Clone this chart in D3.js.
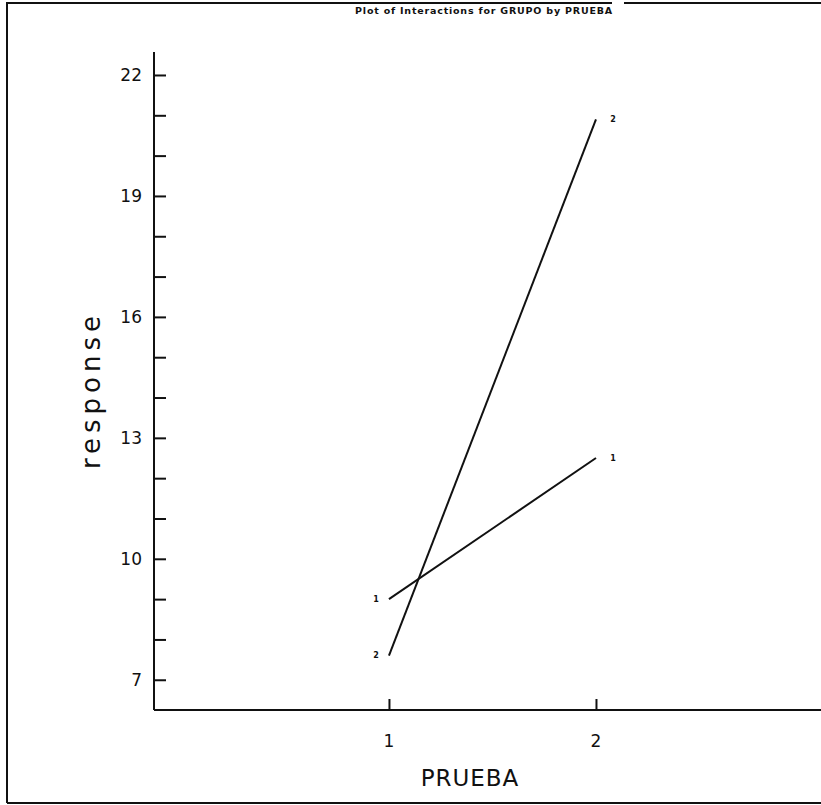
<!DOCTYPE html>
<meta charset="utf-8">
<script src="https://d3js.org/d3.v7.min.js"></script>
<style>
  body { margin: 0; background: #fff; }
  text { font-family: "DejaVu Sans", sans-serif; fill: #111; }
</style>
<div id="chart"></div>
<script>

// data
var prueba = [1, 2];
var grupos = ["1", "2"];
var grupo1 = [9.0, 12.5];
var grupo2 = [7.6, 20.9];
var yTicks = [7, 10, 13, 16, 19, 22];

var W = 821, H = 805;
var margin = {top: 52, right: 0, bottom: 95, left: 154};
var width = W - margin.left - margin.right,
    height = H - margin.top - margin.bottom;

var svg = d3.select("#chart")
  .append("svg")
    .attr("width", W)
    .attr("height", H);

// page frame (scanned printout)
svg.append("path")
  .attr("fill", "none")
  .attr("stroke", "#111")
  .attr("stroke-width", 2)
  .attr("d", "M7,803 L7,3 L612,3 M624,3 L821,3 M7,803 L821,803");

svg.append("text")
  .attr("x", 484).attr("y", 14)
  .attr("text-anchor", "middle")
  .style("font-size", "9.5px")
  .style("font-weight", "bold")
  .style("letter-spacing", "0.8px")
  .text("Plot of Interactions for GRUPO by PRUEBA");

var g = svg.append("g")
  .attr("transform", "translate(" + margin.left + "," + margin.top + ")");

var y = d3.scaleLinear()
  .domain([6.25, 22.57])
  .range([height, 0]);

var x = d3.scaleLinear()
  .domain([-0.135, 3.087])
  .range([0, width]);

// Y axis: ticks pointing right, minor ticks every unit
var yAxis = g.append("g")
  .call(d3.axisRight(y).tickValues(d3.range(7, 23)).tickSize(12).tickFormat(""));
yAxis.select(".domain").attr("d", "M0,0V" + height);
yAxis.selectAll("line, path").attr("stroke", "#111").attr("stroke-width", 2);

g.selectAll(".ylab")
  .data(yTicks)
  .enter().append("text")
    .attr("class", "ylab")
    .attr("x", -12)
    .attr("y", function(d) { return y(d); })
    .attr("dy", "0.35em")
    .attr("text-anchor", "end")
    .style("font-size", "17px")
    .text(function(d) { return d; });

// X axis: ticks pointing up
var xAxis = g.append("g")
  .attr("transform", "translate(0," + height + ")")
  .call(d3.axisTop(x).tickValues(prueba).tickSize(11).tickFormat(""));
xAxis.select(".domain").attr("d", "M0,0H" + width);
xAxis.selectAll("line, path").attr("stroke", "#111").attr("stroke-width", 2);

g.selectAll(".xlab")
  .data(prueba)
  .enter().append("text")
    .attr("class", "xlab")
    .attr("x", function(d) { return x(d); })
    .attr("y", height + 37)
    .attr("text-anchor", "middle")
    .style("font-size", "17px")
    .text(function(d) { return d; });

// axis titles
svg.append("text")
  .attr("x", 470).attr("y", 786)
  .attr("text-anchor", "middle")
  .style("font-size", "23px")
  .style("letter-spacing", "1px")
  .text("PRUEBA");

svg.append("text")
  .attr("transform", "translate(100,390) rotate(-90)")
  .attr("text-anchor", "middle")
  .style("font-size", "26px")
  .style("letter-spacing", "5px")
  .text("response");

// interaction lines
var series = [grupo1, grupo2];
var line = d3.line()
  .x(function(d, i) { return x(prueba[i]); })
  .y(function(d) { return y(d); });

g.selectAll(".gline")
  .data(series)
  .enter().append("path")
    .attr("class", "gline")
    .attr("fill", "none")
    .attr("stroke", "#111")
    .attr("stroke-width", 2)
    .attr("d", line);

// small group markers at both ends
series.forEach(function(s, k) {
  s.forEach(function(v, i) {
    g.append("text")
      .attr("x", x(prueba[i]) + (i === 0 ? -13 : 17))
      .attr("y", y(v))
      .attr("dy", "0.35em")
      .attr("text-anchor", "middle")
      .style("font-size", "8px")
      .style("font-weight", "bold")
      .text(grupos[k]);
  });
});

</script>
